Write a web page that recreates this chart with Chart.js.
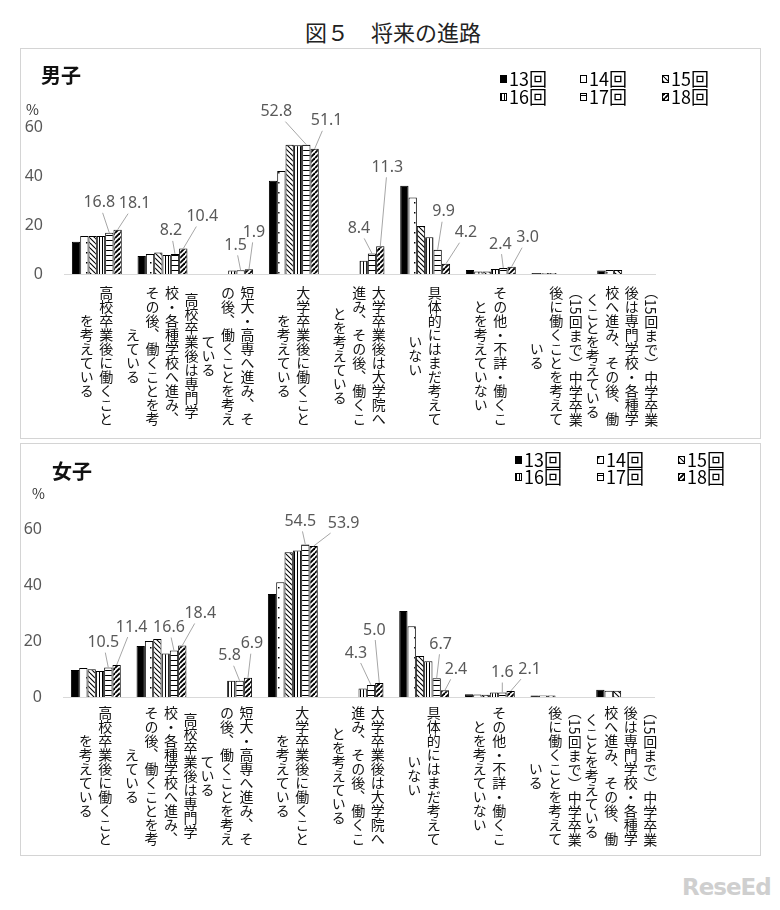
<!DOCTYPE html>
<html lang="ja">
<head>
<meta charset="utf-8">
<title>図５ 将来の進路</title>
<script src="https://cdn.jsdelivr.net/npm/chart.js@4.4.1/dist/chart.umd.min.js"></script>
<style>
  html,body{margin:0;padding:0;background:#fff;}
  body{width:780px;height:910px;position:relative;overflow:hidden;font-family:"Noto Sans CJK JP","Noto Sans",sans-serif;color:#111;}
  .title{position:absolute;left:0;width:786px;top:15px;text-align:center;font-size:22px;color:#222;}
  .panel{position:absolute;left:20px;width:741px;border:1px solid #d4d4d4;box-sizing:border-box;}
  canvas{position:absolute;}
  .ptitle{position:absolute;font-size:20px;font-weight:bold;}
  .pct{position:absolute;font-size:14px;color:#333;}
  .cat{position:absolute;writing-mode:vertical-rl;text-orientation:mixed;text-align:center;
       font-size:14px;line-height:19.5px;white-space:nowrap;transform:translateX(-50%);}
  .logo{position:absolute;left:682px;top:874px;font:bold 23px "DejaVu Sans",sans-serif;color:#cfcfcf;letter-spacing:-1px;}
</style>
</head>
<body>
<div class="title">図５　将来の進路</div>

<div class="panel" style="top:48px;height:391px;"></div>
<div class="panel" style="top:443px;height:413px;"></div>
<canvas id="boys" width="740" height="390" style="left:20px;top:48px;"></canvas>
<canvas id="girls" width="740" height="412" style="left:20px;top:443px;"></canvas>

<div class="ptitle" style="left:41px;top:60px;">男子</div>
<div class="ptitle" style="left:52px;top:456px;">女子</div>
<div class="pct" style="left:26px;top:99px;">%</div>
<div class="pct" style="left:32px;top:483px;">%</div>
<div class="logo">ReseEd</div>

<script>
/* ---- データ ---- */
const seriesNames = ['13回','14回','15回','16回','17回','18回'];

// カテゴリ（縦書き表示用に列ごとに分けてある）
const catColumns = [
  ['高校卒業後に働くこと','を考えている'],
  ['高校卒業後は専門学','校・各種学校へ進み、','その後、働くことを考','えている'],
  ['短大・高専へ進み、そ','の後、働くことを考え','ている'],
  ['大学卒業後に働くこと','を考えている'],
  ['大学卒業後は大学院へ','進み、その後、働くこ','とを考えている'],
  ['具体的にはまだ考えて','いない'],
  ['その他・不詳・働くこ','とを考えていない'],
  ['（15回まで）中学卒業','後に働くことを考えて','いる'],
  ['（15回まで）中学卒業','後は専門学校・各種学','校へ進み、その後、働','くことを考えている']
];
const categories = catColumns.map(c => c.join(''));

const yTicks = [0, 20, 40, 60];

// 男子
const boys13 = [13.2,  7.3, null, 38.1, null, 36.0, 1.6, 0.4, 1.4];
const boys14 = [15.5,  8.2, null, 42.0, null, 31.2, 1.0, 0.4, 1.6];
const boys15 = [15.5,  8.8, null, 52.8, null, 19.6, 1.0, 0.4, 1.6];
const boys16 = [15.5,  7.8, 1.4, 52.6,  5.4, 15.0, 2.0, null, null];
const boys17 = [16.8,  8.2, 1.5, 52.8,  8.4,  9.9, 2.4, null, null];
const boys18 = [18.1, 10.4, 1.9, 51.1, 11.3,  4.2, 3.0, null, null];

// 女子
const girls13 = [ 9.6, 18.2, null, 36.8, null, 30.7, 1.0, 0.5, 2.6];
const girls14 = [10.4, 20.0, null, 41.0, null, 25.3, 0.9, 0.5, 2.2];
const girls15 = [ 9.9, 20.7, null, 51.7, null, 14.6, 0.8, 0.5, 2.2];
const girls16 = [ 9.3, 15.5, 5.8, 52.3,  3.0, 12.8, 1.6, null, null];
const girls17 = [10.5, 16.6, 5.8, 54.5,  4.3,  6.7, 1.6, null, null];
const girls18 = [11.4, 18.4, 6.9, 53.9,  5.0,  2.4, 2.1, null, null];

/* ---- 吹き出しラベル位置（棒の上端からのずれ） ---- */
const boysCallouts = [
  {ds:4,i:0,dx:-10,dy:-30},{ds:5,i:0,dx:17,dy:-26},
  {ds:4,i:1,dx:-4,dy:-23},{ds:5,i:1,dx:19,dy:-32},
  {ds:4,i:2,dx:-5,dy:-25},{ds:5,i:2,dx:5,dy:-37},
  {ds:4,i:3,dx:-30,dy:-33},{ds:5,i:3,dx:12,dy:-28},
  {ds:4,i:4,dx:-13,dy:-25},{ds:5,i:4,dx:7,dy:-79},
  {ds:4,i:5,dx:6,dy:-38},{ds:5,i:5,dx:20,dy:-31},
  {ds:4,i:6,dx:-3,dy:-24},{ds:5,i:6,dx:16,dy:-29}
];
const girlsCallouts = [
  {ds:4,i:0,dx:-5,dy:-25},{ds:5,i:0,dx:15,dy:-38},
  {ds:4,i:1,dx:-5,dy:-23},{ds:5,i:1,dx:18,dy:-32},
  {ds:4,i:2,dx:-10,dy:-25},{ds:5,i:2,dx:4,dy:-34},
  {ds:4,i:3,dx:-5,dy:-23},{ds:5,i:3,dx:30,dy:-23},
  {ds:4,i:4,dx:-15,dy:-32},{ds:5,i:4,dx:-5,dy:-53},
  {ds:4,i:5,dx:4,dy:-34},{ds:5,i:5,dx:11,dy:-21},
  {ds:4,i:6,dx:0,dy:-20},{ds:5,i:6,dx:19,dy:-22}
];

/* ---- 模様 ---- */
function makePattern(kind){
  if (kind === 'solid') return '#000';
  const c = document.createElement('canvas');
  const sz = {dots:[8,10], bslash:[5,5], vert:[3,3], horiz:[4,5], fslash:[5,5]}[kind];
  c.width = sz[0]; c.height = sz[1];
  const g = c.getContext('2d');
  g.fillStyle = '#fff'; g.fillRect(0,0,c.width,c.height);
  g.fillStyle = '#000'; g.strokeStyle = '#000';
  if (kind === 'dots')  g.fillRect(2,4,1.5,1.5);
  if (kind === 'vert')  g.fillRect(1,0,1,3);
  if (kind === 'horiz') g.fillRect(0,2,4,1);
  if (kind === 'bslash' || kind === 'fslash'){
    g.lineWidth = kind === 'bslash' ? 1.1 : 1.9;
    for (const k of [-5,0,5]){
      g.beginPath();
      if (kind === 'bslash'){ g.moveTo(0,k); g.lineTo(5,5+k); }
      else { g.moveTo(0,5+k); g.lineTo(5,k); }
      g.stroke();
    }
  }
  return g.createPattern(c,'repeat');
}
const fills = ['solid','dots','bslash','vert','horiz','fslash'].map(makePattern);

/* ---- プラグイン ---- */
const calloutPlugin = {
  id:'callouts',
  afterDatasetsDraw(chart, args, opts){
    const ctx = chart.ctx;
    ctx.save();
    ctx.font = '16px "Noto Sans"';
    ctx.textAlign = 'center'; ctx.textBaseline = 'middle';
    for (const c of (opts.items || [])){
      const bar = chart.getDatasetMeta(c.ds).data[c.i];
      const v = chart.data.datasets[c.ds].data[c.i];
      const txt = v.toFixed(1);
      const tx = bar.x + c.dx, ty = bar.y + c.dy;
      const hw = ctx.measureText(txt).width/2 + 2, hh = 10;
      const vx = bar.x - tx, vy = bar.y - ty;
      const t = Math.min(vx ? hw/Math.abs(vx) : Infinity, vy ? hh/Math.abs(vy) : Infinity);
      if (t < 0.85){
        ctx.strokeStyle = '#a6a6a6'; ctx.lineWidth = 1;
        ctx.beginPath(); ctx.moveTo(tx+vx*t, ty+vy*t); ctx.lineTo(bar.x, bar.y); ctx.stroke();
      }
      ctx.fillStyle = '#595959';
      ctx.fillText(txt, tx, ty);
    }
    ctx.restore();
  }
};

const legendPlugin = {
  id:'seriesLegend',
  afterDraw(chart, args, opts){
    const ctx = chart.ctx;
    ctx.save();
    ctx.font = '18px "Noto Sans CJK JP"';
    ctx.textBaseline = 'middle';
    chart.data.datasets.forEach((ds,i) => {
      const x = opts.x[i%3], y = opts.y[Math.floor(i/3)];
      ctx.fillStyle = ds.backgroundColor;
      ctx.fillRect(x, y-4, 7, 8);
      ctx.strokeStyle = '#000'; ctx.lineWidth = 1;
      ctx.strokeRect(x+0.5, y-3.5, 6, 7);
      ctx.fillStyle = '#000';
      ctx.fillText(ds.label, x+9, y);
    });
    ctx.restore();
  }
};

/* ---- グラフ作成 ---- */
function buildChart(id, series, o){
  return new Chart(document.getElementById(id), {
    type:'bar',
    data:{
      labels: categories,
      datasets: series.map((d,k) => ({
        label: seriesNames[k], data: d,
        backgroundColor: fills[k], borderColor:'#000', borderWidth:1,
        barPercentage:1.0, categoryPercentage:0.76
      }))
    },
    options:{
      responsive:false, animation:false, events:[],
      layout:{ padding:{ top:o.top, right:o.right, left:0, bottom:0 } },
      plugins:{
        legend:{display:false}, tooltip:{enabled:false},
        callouts:{ items:o.callouts },
        seriesLegend:{ x:o.legX, y:o.legY }
      },
      scales:{
        x:{
          grid:{display:false, drawTicks:false}, ticks:{display:false},
          border:{display:true, color:'#d9d9d9', width:1},
          afterFit(a){ a.height = o.xh; }
        },
        y:{
          min:0, max:60,
          grid:{display:false, drawTicks:false}, border:{display:false},
          ticks:{ padding:21, color:'#595959', font:{family:'Noto Sans', size:16} },
          afterBuildTicks(a){ a.ticks = yTicks.map(v => ({value:v})); },
          afterFit(a){ a.width = o.yw; }
        }
      }
    },
    plugins:[calloutPlugin, legendPlugin]
  });
}

function placeCategoryLabels(chart, left, top, bottom){
  const xs = chart.scales.x;
  const y0 = top + xs.top;
  catColumns.forEach((cols,i) => {
    const d = document.createElement('div');
    d.className = 'cat';
    d.style.left = (left + xs.getPixelForValue(i) - 1) + 'px';
    d.style.top = (y0 + 2) + 'px';
    d.style.height = (bottom - y0 - 4) + 'px';
    d.innerHTML = cols.join('<br>');
    document.body.appendChild(d);
  });
}

const boysChart = buildChart('boys', [boys13,boys14,boys15,boys16,boys17,boys18], {
  top:79, right:105, yw:44, xh:164, callouts:boysCallouts,
  legX:[480,560,642], legY:[31,49]
});
const girlsChart = buildChart('girls', [girls13,girls14,girls15,girls16,girls17,girls18], {
  top:86, right:106, yw:43, xh:158, callouts:girlsCallouts,
  legX:[495,577,658], legY:[17,34]
});

placeCategoryLabels(boysChart, 20, 48, 438);
placeCategoryLabels(girlsChart, 20, 443, 855);
</script>
</body>
</html>
